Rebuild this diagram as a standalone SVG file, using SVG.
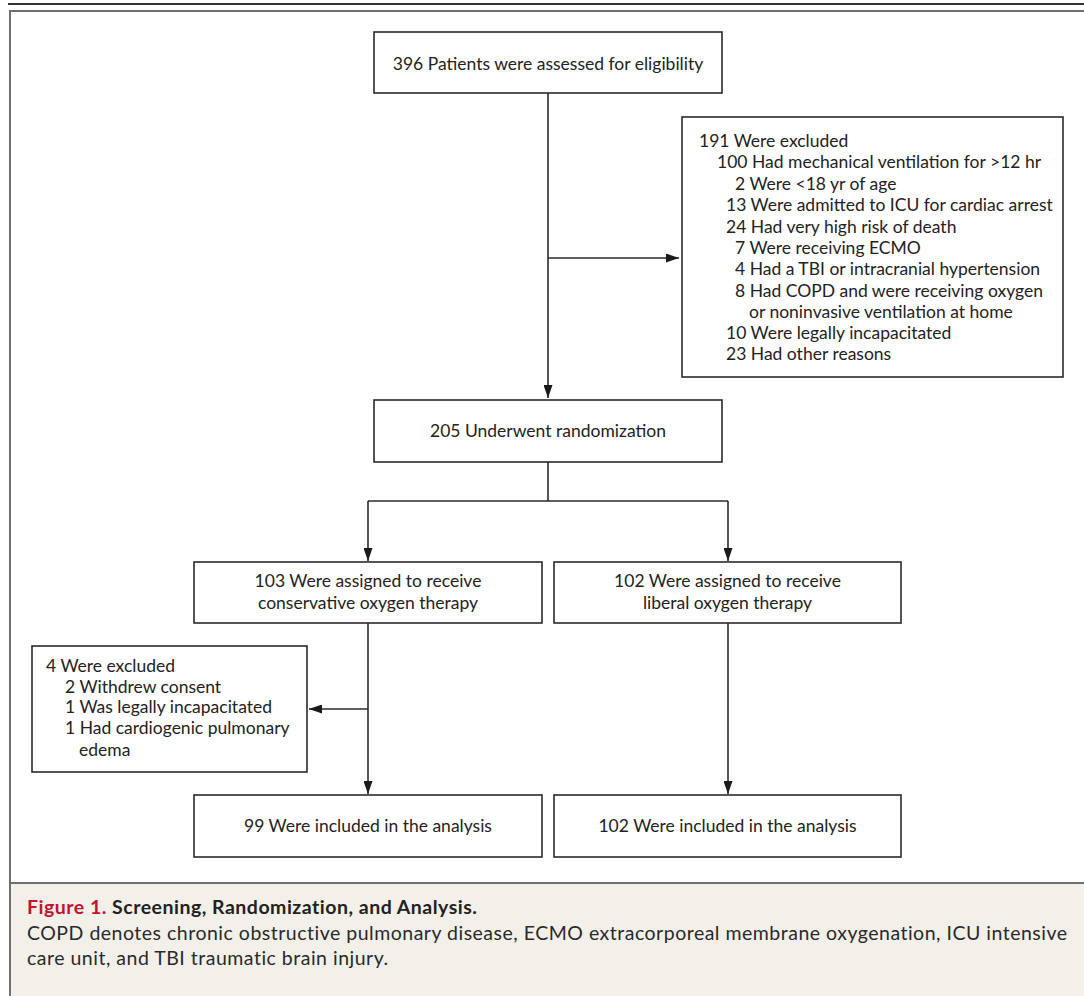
<svg xmlns="http://www.w3.org/2000/svg" width="1084" height="996" viewBox="0 0 1084 996">
<defs>
<marker id="ah" markerUnits="userSpaceOnUse" markerWidth="14" markerHeight="9" refX="13" refY="4.5" orient="auto">
<path d="M0,0 L13,4.5 L0,9 z" fill="#1a1a1a"/>
</marker>
</defs>
<style>
.box{fill:#fff;stroke:#2a2a2a;stroke-width:1.6}
.t{font-family:Lato,"Open Sans","Noto Sans",sans-serif;font-size:17.5px;fill:#222}
.c{text-anchor:middle}
.con{fill:none;stroke:#2a2a2a;stroke-width:1.6}
.cap{font-family:Lato,"Open Sans","Noto Sans",sans-serif;font-size:19.5px;letter-spacing:0.5px;fill:#2a2a2a}
</style>
<rect x="0" y="0" width="1084" height="996" fill="#fff"/>
<rect x="10" y="883" width="1080" height="120" fill="#f3f0ea"/>
<line x1="8" y1="4" x2="1084" y2="4" stroke="#333" stroke-width="1.8"/>
<path d="M1090,11 H10 V1000" fill="none" stroke="#707070" stroke-width="2"/>
<line x1="10" y1="883" x2="1084" y2="883" stroke="#707070" stroke-width="2"/>

<g id="connectors">
<path class="con" d="M548,93 V398" marker-end="url(#ah)"/>
<path class="con" d="M548,258 H679" marker-end="url(#ah)"/>
<path class="con" d="M548,462 V501 M368,501 H728"/>
<path class="con" d="M368,501 V561" marker-end="url(#ah)"/>
<path class="con" d="M728,501 V561" marker-end="url(#ah)"/>
<path class="con" d="M368,623 V794" marker-end="url(#ah)"/>
<path class="con" d="M368,709 H309" marker-end="url(#ah)"/>
<path class="con" d="M728,623 V794" marker-end="url(#ah)"/>
</g>

<g id="assessed">
<rect class="box" x="374" y="32" width="348" height="61"/>
<text class="t c" x="548" y="70">396 Patients were assessed for eligibility</text>
</g>

<g id="excluded1">
<rect class="box" x="682" y="117" width="381" height="260"/>
<text class="t" x="699" y="147">191 Were excluded</text>
<text class="t" x="717" y="168">100 Had mechanical ventilation for &gt;12 hr</text>
<text class="t" x="735" y="190">2 Were &lt;18 yr of age</text>
<text class="t" x="726" y="211">13 Were admitted to ICU for cardiac arrest</text>
<text class="t" x="726" y="233">24 Had very high risk of death</text>
<text class="t" x="735" y="254">7 Were receiving ECMO</text>
<text class="t" x="735" y="275">4 Had a TBI or intracranial hypertension</text>
<text class="t" x="735" y="297">8 Had COPD and were receiving oxygen</text>
<text class="t" x="749" y="318">or noninvasive ventilation at home</text>
<text class="t" x="726" y="339">10 Were legally incapacitated</text>
<text class="t" x="726" y="360">23 Had other reasons</text>
</g>

<g id="randomized">
<rect class="box" x="374" y="400" width="348" height="62"/>
<text class="t c" x="548" y="437">205 Underwent randomization</text>
</g>

<g id="conservative">
<rect class="box" x="194" y="562" width="348" height="61"/>
<text class="t c" x="368" y="587">103 Were assigned to receive</text>
<text class="t c" x="368" y="609">conservative oxygen therapy</text>
</g>

<g id="liberal">
<rect class="box" x="554" y="562" width="347" height="61"/>
<text class="t c" x="727.5" y="587">102 Were assigned to receive</text>
<text class="t c" x="727.5" y="609">liberal oxygen therapy</text>
</g>

<g id="excluded2">
<rect class="box" x="32" y="646" width="275" height="126"/>
<text class="t" x="46" y="672">4 Were excluded</text>
<text class="t" x="65" y="693">2 Withdrew consent</text>
<text class="t" x="65" y="713">1 Was legally incapacitated</text>
<text class="t" x="65" y="734">1 Had cardiogenic pulmonary</text>
<text class="t" x="79" y="756">edema</text>
</g>

<g id="analysis1">
<rect class="box" x="194" y="795" width="348" height="62"/>
<text class="t c" x="368" y="832">99 Were included in the analysis</text>
</g>

<g id="analysis2">
<rect class="box" x="554" y="795" width="347" height="62"/>
<text class="t c" x="727.5" y="832">102 Were included in the analysis</text>
</g>

<g id="caption">
<text class="cap" x="27" y="914" font-weight="bold" letter-spacing="0.2"><tspan fill="#c41230">Figure 1.</tspan> <tspan fill="#222">Screening, Randomization, and Analysis.</tspan></text>
<text class="cap" x="27" y="940">COPD denotes chronic obstructive pulmonary disease, ECMO extracorporeal membrane oxygenation, ICU intensive</text>
<text class="cap" x="27" y="965">care unit, and TBI traumatic brain injury.</text>
</g>
</svg>
